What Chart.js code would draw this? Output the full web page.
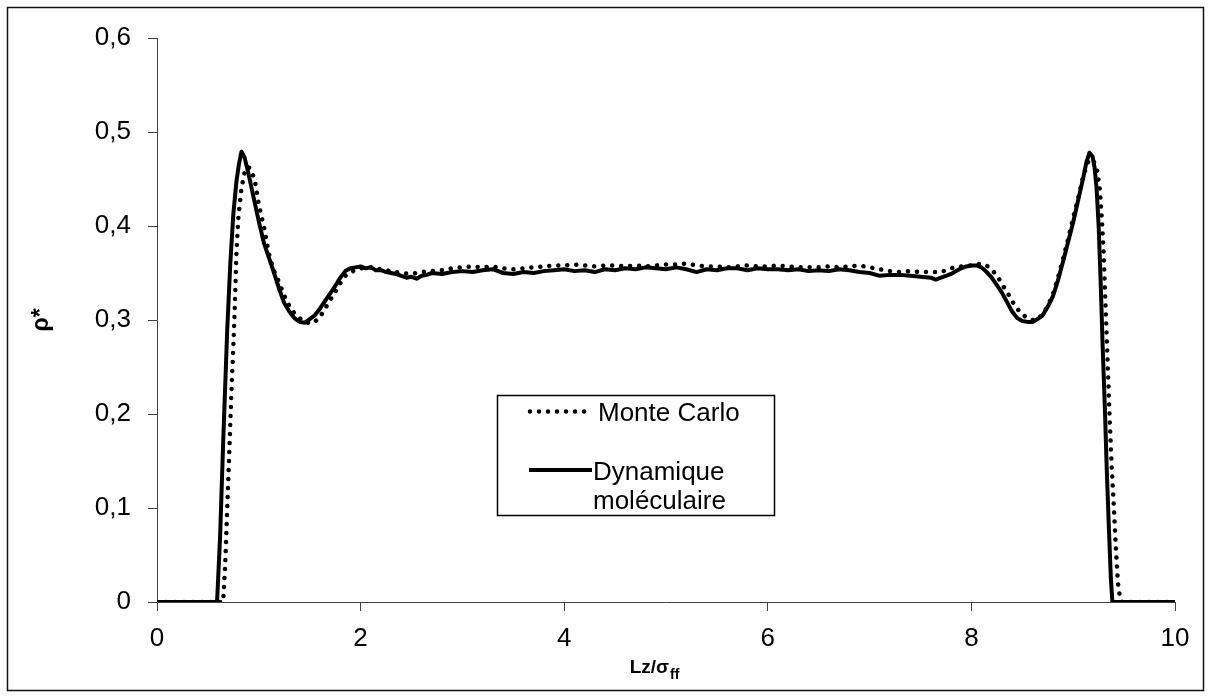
<!DOCTYPE html>
<html>
<head>
<meta charset="utf-8">
<script src="https://cdn.jsdelivr.net/npm/chart.js@4.4.1/dist/chart.umd.min.js"></script>
<style>
body { margin: 0; background: #fff; }
#wrap { position: relative; width: 1211px; height: 697px; }
</style>
</head>
<body>
<div id="wrap"><canvas id="myChart"></canvas></div>
<script>
// Monte Carlo profile (dotted)
const mcX = [0, 0.65, 0.67, 0.70, 0.73, 0.76, 0.78, 0.80, 0.83, 0.86, 0.89, 0.92, 0.96, 1.00, 1.05, 1.10, 1.15, 1.20, 1.25, 1.30, 1.35, 1.40, 1.45, 1.52, 1.56, 1.60, 1.65, 1.70, 1.75, 1.80, 1.85, 1.90, 1.95,
  2.0, 2.1, 2.2, 2.3, 2.4, 2.5, 2.6, 2.7, 2.8, 2.9, 3.0, 3.1, 3.2, 3.3, 3.4, 3.5, 3.6, 3.7, 3.8, 3.9,
  4.0, 4.1, 4.2, 4.3, 4.4, 4.5, 4.6, 4.7, 4.8, 4.9, 5.0, 5.1, 5.2, 5.3, 5.4, 5.5, 5.6, 5.7, 5.8, 5.9,
  6.0, 6.1, 6.2, 6.3, 6.4, 6.5, 6.6, 6.7, 6.8, 6.9, 7.0, 7.1, 7.2, 7.3, 7.4, 7.5, 7.6, 7.7, 7.8, 7.9,
  8.0, 8.1, 8.15, 8.2, 8.25, 8.3, 8.35, 8.4, 8.45, 8.5, 8.55, 8.6, 8.65, 8.7, 8.75, 8.8, 8.85, 8.9, 8.95,
  9.0, 9.05, 9.1, 9.15, 9.19, 9.23, 9.26, 9.28, 9.30, 9.32, 9.34, 9.36, 9.38, 9.40, 9.42, 9.44, 9.46, 9.48, 10];
const mcY = [0, 0, 0.04, 0.13, 0.22, 0.30, 0.37, 0.41, 0.44, 0.457, 0.463, 0.461, 0.449, 0.423, 0.399, 0.370, 0.352, 0.340, 0.326, 0.315, 0.307, 0.302, 0.298, 0.296, 0.299, 0.303, 0.312, 0.321, 0.330, 0.339, 0.347, 0.351, 0.353,
  0.355, 0.356, 0.354, 0.352, 0.350, 0.349, 0.351, 0.352, 0.353, 0.355, 0.356, 0.357, 0.356, 0.357, 0.355, 0.354, 0.355, 0.356, 0.357, 0.358,
  0.358, 0.359, 0.358, 0.357, 0.358, 0.358, 0.357, 0.358, 0.357, 0.358, 0.359, 0.359, 0.360, 0.358, 0.357, 0.357, 0.356, 0.357, 0.358, 0.357,
  0.357, 0.358, 0.357, 0.356, 0.356, 0.356, 0.357, 0.356, 0.357, 0.358, 0.356, 0.354, 0.352, 0.351, 0.352, 0.351, 0.351, 0.351, 0.355, 0.357,
  0.358, 0.360, 0.358, 0.353, 0.348, 0.338, 0.330, 0.320, 0.312, 0.306, 0.302, 0.300, 0.301, 0.306, 0.315, 0.327, 0.345, 0.365, 0.386,
  0.409, 0.430, 0.454, 0.469, 0.471, 0.462, 0.440, 0.410, 0.370, 0.310, 0.250, 0.190, 0.140, 0.100, 0.055, 0.020, 0.004, 0, 0];

// Molecular dynamics profile (solid)
const mdX = [0, 0.59, 0.62, 0.65, 0.69, 0.72, 0.75, 0.78, 0.805, 0.83, 0.86, 0.90, 0.95, 1.00, 1.05, 1.10, 1.15, 1.20, 1.25, 1.30, 1.35, 1.40, 1.45, 1.50, 1.55, 1.60, 1.65, 1.70, 1.75, 1.80, 1.85, 1.90, 1.95,
  2.00, 2.05, 2.10, 2.15, 2.20, 2.25, 2.30, 2.35, 2.40, 2.45, 2.50, 2.55, 2.60, 2.65, 2.70,
  2.8, 2.9, 3.0, 3.1, 3.2, 3.3, 3.4, 3.5, 3.6, 3.7, 3.8, 3.9, 4.0, 4.1, 4.2, 4.3, 4.4, 4.5, 4.6, 4.7, 4.8, 4.9,
  5.0, 5.1, 5.2, 5.3, 5.4, 5.5, 5.6, 5.7, 5.8, 5.9, 6.0, 6.1, 6.2, 6.3, 6.4, 6.5, 6.6, 6.7, 6.8, 6.9,
  7.0, 7.1, 7.2, 7.3, 7.4, 7.5, 7.6, 7.65, 7.70, 7.75, 7.80, 7.85, 7.90, 7.95,
  8.00, 8.05, 8.10, 8.15, 8.20, 8.25, 8.30, 8.35, 8.40, 8.45, 8.50, 8.55, 8.60, 8.65, 8.70, 8.75, 8.80, 8.85, 8.90, 8.95,
  9.00, 9.05, 9.10, 9.13, 9.16, 9.19, 9.21, 9.23, 9.25, 9.27, 9.29, 9.31, 9.33, 9.35, 9.37, 9.385, 10];
const mdY = [0, 0, 0.07, 0.17, 0.29, 0.36, 0.413, 0.447, 0.466, 0.479, 0.473, 0.455, 0.430, 0.405, 0.382, 0.366, 0.350, 0.333, 0.318, 0.309, 0.302, 0.298, 0.297, 0.301, 0.305, 0.312, 0.320, 0.328, 0.336, 0.345, 0.352, 0.355, 0.356,
  0.357, 0.355, 0.356, 0.353, 0.353, 0.351, 0.350, 0.349, 0.347, 0.345, 0.346, 0.344, 0.347, 0.348, 0.350,
  0.349, 0.351, 0.352, 0.351, 0.353, 0.354, 0.350, 0.349, 0.351, 0.350, 0.352, 0.353, 0.354, 0.352, 0.353, 0.351, 0.354, 0.353, 0.355, 0.354, 0.356, 0.355,
  0.354, 0.356, 0.354, 0.351, 0.354, 0.353, 0.355, 0.355, 0.353, 0.355, 0.354, 0.354, 0.353, 0.354, 0.352, 0.353, 0.352, 0.354, 0.353, 0.351,
  0.350, 0.347, 0.348, 0.348, 0.347, 0.346, 0.345, 0.343, 0.345, 0.347, 0.349, 0.352, 0.355, 0.357,
  0.358, 0.358, 0.356, 0.351, 0.345, 0.337, 0.329, 0.319, 0.309, 0.302, 0.299, 0.298, 0.298, 0.301, 0.305, 0.314, 0.325, 0.342, 0.362, 0.383,
  0.404, 0.428, 0.452, 0.468, 0.478, 0.474, 0.462, 0.440, 0.400, 0.340, 0.270, 0.210, 0.140, 0.080, 0.025, 0, 0];

const seriesNames = ['Monte Carlo', 'Dynamique moléculaire'];
const xTitle = 'Lz/σ';
const xTitleSub = 'ff';
const yTitle = 'ρ*';

function toPoints(xs, ys) {
  return xs.map((x, i) => ({ x: x, y: ys[i] }));
}

const axisColor = '#404040';
const dotDash = [0.01, 9];

// outer frame
const framePlugin = {
  id: 'frame',
  beforeDraw(chart) {
    const ctx = chart.ctx;
    ctx.save();
    ctx.fillStyle = '#fff';
    ctx.fillRect(0, 0, chart.width, chart.height);
    ctx.strokeStyle = '#111';
    ctx.lineWidth = 1.5;
    ctx.strokeRect(7.5, 7.5, 1196, 683);
    ctx.restore();
  }
};

// x axis title with subscript
const xTitlePlugin = {
  id: 'xTitleSub',
  afterDraw(chart) {
    const ctx = chart.ctx;
    const area = chart.chartArea;
    ctx.save();
    ctx.fillStyle = '#000';
    ctx.textBaseline = 'alphabetic';
    ctx.font = 'bold 19px "Liberation Sans", Arial, sans-serif';
    const w1 = ctx.measureText(xTitle).width;
    ctx.font = 'bold 14px "Liberation Sans", Arial, sans-serif';
    const w2 = ctx.measureText(xTitleSub).width;
    const x0 = (area.left + area.right) / 2 - (w1 + w2) / 2 - 12;
    ctx.font = 'bold 19px "Liberation Sans", Arial, sans-serif';
    ctx.fillText(xTitle, x0, 673);
    ctx.font = 'bold 14px "Liberation Sans", Arial, sans-serif';
    ctx.fillText(xTitleSub, x0 + w1 + 1, 679);
    ctx.restore();
  }
};

// boxed legend inside the plot
const legendPlugin = {
  id: 'boxLegend',
  afterDraw(chart) {
    const ctx = chart.ctx;
    ctx.save();
    ctx.strokeStyle = '#000';
    ctx.lineWidth = 1.5;
    ctx.strokeRect(497.5, 395.5, 277, 120);

    ctx.lineCap = 'round';
    ctx.lineWidth = 4.5;
    ctx.setLineDash(dotDash);
    ctx.beginPath();
    ctx.moveTo(530, 411.5);
    ctx.lineTo(586, 411.5);
    ctx.stroke();

    ctx.setLineDash([]);
    ctx.lineCap = 'butt';
    ctx.lineWidth = 4;
    ctx.beginPath();
    ctx.moveTo(529, 470);
    ctx.lineTo(592, 470);
    ctx.stroke();

    ctx.fillStyle = '#000';
    ctx.font = '26px "Liberation Sans", Arial, sans-serif';
    ctx.textBaseline = 'alphabetic';
    ctx.fillText(seriesNames[0], 598, 421);
    const words = seriesNames[1].split(' ');
    ctx.fillText(words[0], 593, 480);
    ctx.fillText(words[1], 593, 509);
    ctx.restore();
  }
};

const ctx = document.getElementById('myChart');

const myChart = new Chart(ctx, {
  type: 'line',
  data: {
    datasets: [
      {
        label: seriesNames[0],
        data: toPoints(mcX, mcY),
        borderColor: '#000',
        borderWidth: 4.5,
        borderDash: dotDash,
        borderCapStyle: 'round',
        pointRadius: 0,
        fill: false,
        tension: 0
      },
      {
        label: seriesNames[1],
        data: toPoints(mdX, mdY),
        borderColor: '#000',
        borderWidth: 4,
        borderJoinStyle: 'round',
        pointRadius: 0,
        fill: false,
        tension: 0
      }
    ]
  },
  options: {
    responsive: true,
    maintainAspectRatio: false,
    animation: false,
    layout: { padding: { left: 0, top: 38, right: 36, bottom: 0 } },
    plugins: {
      legend: { display: false },
      tooltip: { enabled: false }
    },
    scales: {
      x: {
        type: 'linear',
        min: 0,
        max: 10,
        afterFit: (scale) => { scale.height = 95; },
        ticks: {
          stepSize: 2,
          color: '#000',
          padding: 12,
          maxRotation: 0,
          font: { family: '"Liberation Sans", Arial, sans-serif', size: 26 },
          callback: (v) => String(v)
        },
        grid: { drawOnChartArea: false, drawTicks: true, tickLength: 9, tickColor: axisColor },
        border: { display: true, color: axisColor, width: 1 }
      },
      y: {
        min: 0,
        max: 0.6,
        afterFit: (scale) => { scale.width = 157; },
        ticks: {
          stepSize: 0.1,
          color: '#000',
          padding: 17,
          font: { family: '"Liberation Sans", Arial, sans-serif', size: 26 },
          callback: (v) => v === 0 ? '0' : v.toFixed(1).replace('.', ',')
        },
        grid: { drawOnChartArea: false, drawTicks: true, tickLength: 9, tickColor: axisColor },
        border: { display: true, color: axisColor, width: 1 },
        title: {
          display: true,
          text: yTitle,
          color: '#000',
          font: { family: '"Liberation Sans", Arial, sans-serif', size: 23, weight: 'bold' },
          padding: { top: 28, bottom: 0 }
        }
      }
    }
  },
  plugins: [framePlugin, xTitlePlugin, legendPlugin]
});
</script>
</body>
</html>
